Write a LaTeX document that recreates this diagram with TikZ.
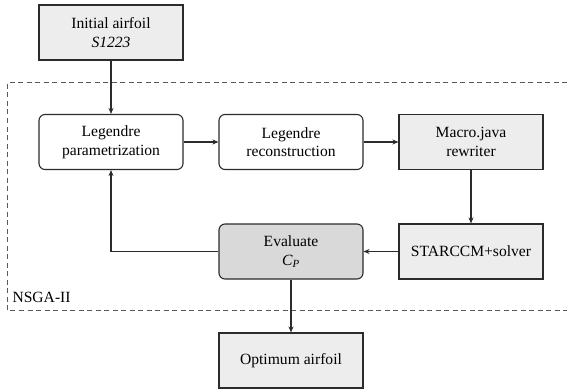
\documentclass[tikz,border=0pt]{standalone}
\usepackage{fontspec}
\setmainfont{Liberation Serif}
\usetikzlibrary{arrows.meta}
\definecolor{boxgray}{HTML}{EDEDED}
\definecolor{evalgray}{HTML}{D9D9D9}
\definecolor{linegray}{HTML}{2B2B2B}
\begin{document}
\begin{tikzpicture}
    [x=1pt,y=1pt,font=\rmfamily\fontsize{15.6}{18.5}\selectfont,
     every node/.style={draw=linegray,line width=1.1pt,align=center,minimum width=144pt,minimum height=55pt},
     flat/.style={fill=boxgray},
     round/.style={fill=white,rounded corners=6pt},
     evalbox/.style={fill=evalgray,rounded corners=6pt},
     link/.style={draw=linegray,line width=1.1pt,-{Stealth[length=6pt,width=5pt]}}]
    \useasboundingbox (0,0) rectangle (567,389);
    % NSGA-II loop frame
    \draw[gray!70!black,line width=1pt,dash pattern=on 5pt off 3.5pt] (567,306) -- (7,306) -- (7,79) -- (567,79);
    \node[draw=none,minimum width=0pt,minimum height=0pt,inner sep=0pt,anchor=south west] (nsga) at (12,86) {NSGA-II};
    \node[flat] (init) at (111,356.5) {Initial airfoil\\\textit{S1223}};
    \node[round] (param) at (111,247) {Legendre\\parametrization};
    \node[round] (recon) at (291,247) {Legendre\\reconstruction};
    \node[flat] (macro) at (471,247) {Macro.java\\rewriter};
    \node[flat] (solver) at (471,137.5) {STARCCM+solver};
    \node[evalbox] (eval) at (291,137.5) {Evaluate\\\textit{C}\textsubscript{\textit{P}}};
    \node[flat] (optim) at (291,28.5) {Optimum airfoil};
    \draw[link] (init) -- (param);
    \draw[link] (param) -- (recon);
    \draw[link] (recon) -- (macro);
    \draw[link] (macro) -- (solver);
    \draw[link] (solver) -- (eval);
    \draw[link] (eval.west) -| (param.south);
    \draw[link] (eval) -- (optim);
  \end{tikzpicture}
\end{document}
